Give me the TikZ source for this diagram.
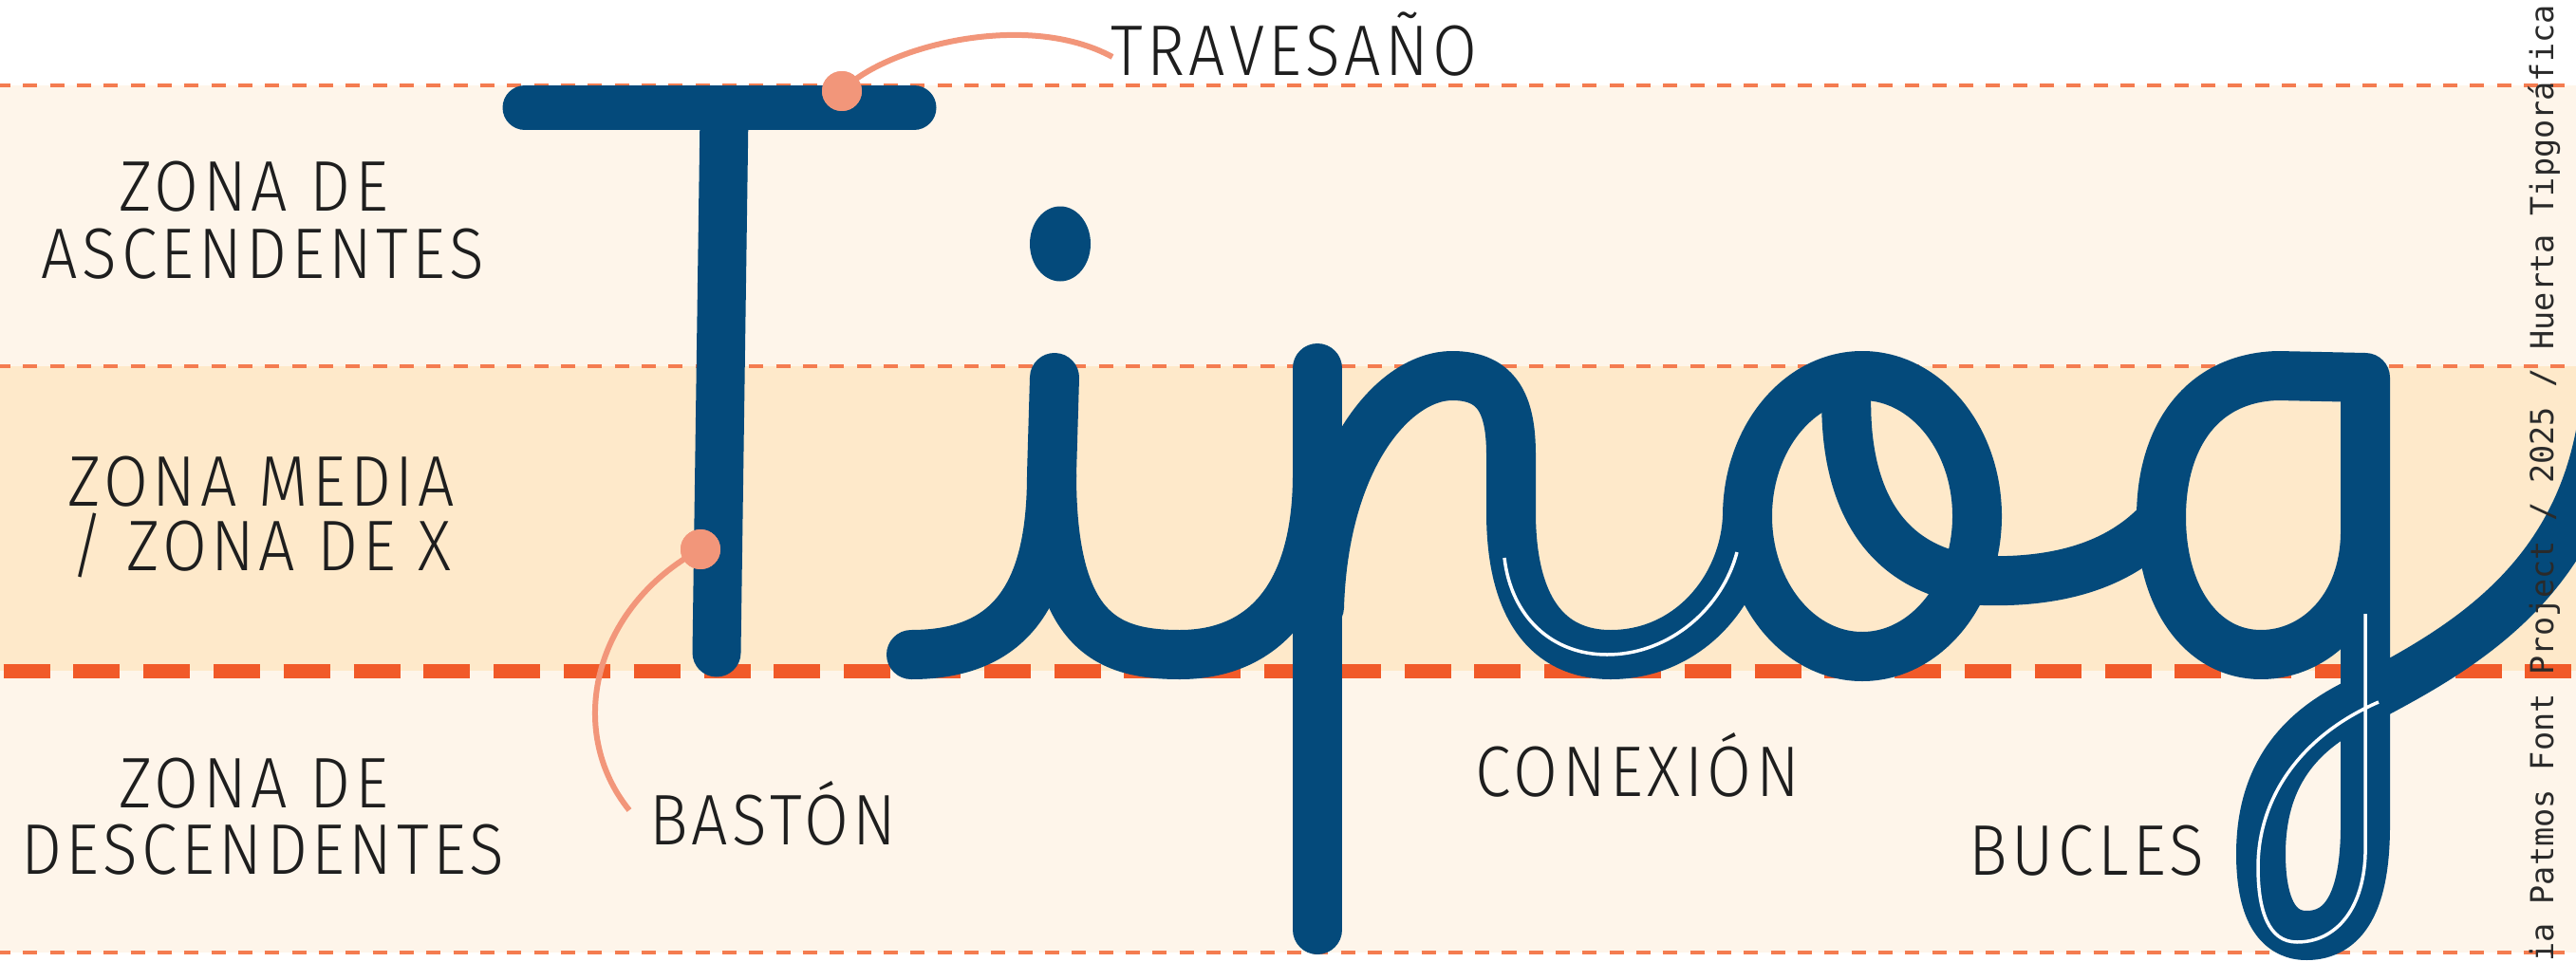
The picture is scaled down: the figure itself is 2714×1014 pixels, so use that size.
\documentclass[tikz,border=0pt]{standalone}
\usepackage{fontspec}
\IfFontExistsTF{Fira Sans Light}
  {\newfontfamily\lblfont{Fira Sans Light}[FakeStretch=0.9,LetterSpace=6]\def\lblsize{75.5}}
  {\newfontfamily\lblfont{Open Sans}[FakeStretch=0.82,LetterSpace=7]\def\lblsize{73}}
\newfontfamily\credfont{DejaVu Sans Mono}
\definecolor{navy}{HTML}{044A7B}
\definecolor{salmon}{HTML}{F2967A}
\definecolor{thickorange}{HTML}{F15A29}
\definecolor{thinorange}{HTML}{F47C50}
\definecolor{bandlight}{HTML}{FEF5EA}
\definecolor{bandpeach}{HTML}{FEE9CA}
\definecolor{labelink}{HTML}{1E1E1E}
\definecolor{credink}{HTML}{2A2A2A}
\begin{document}
\begin{tikzpicture}[x=1pt,y=-1pt,
  thindash/.style={draw=thinorange,line width=4.5pt,dash pattern=on 15pt off 13.33pt},
  thickdash/.style={draw=thickorange,line width=15pt,dash pattern=on 49pt off 24.8pt},
  ink/.style={draw=navy,line width=52pt,line cap=round,line join=round},
  wline/.style={draw=white,line width=3.5pt},
  leader/.style={draw=salmon,line width=6pt},
  dotmark/.style={circle,fill=salmon,minimum size=42pt,inner sep=0pt},
  lbl/.style={font=\lblfont\fontsize{\lblsize}{71}\selectfont,text=labelink,inner sep=0pt,anchor=base},
  lblw/.style={lbl,anchor=base west},
  cred/.style={font=\credfont\fontsize{33.5}{40}\selectfont,text=credink,inner sep=0pt,rotate=90,anchor=base west}]
\useasboundingbox (0,0) rectangle (2714,1014);
\fill[white] (0,0) rectangle (2714,1014);
% bands
\fill[bandlight] (0,90) rectangle (2714,386);
\fill[bandpeach] (0,386) rectangle (2714,707);
\fill[bandlight] (0,707) rectangle (2714,1004);
% guide lines
\draw[thindash] (-4,90) -- (2714,90);
\draw[thindash] (-4,386) -- (2714,386);
\draw[thickdash] (3.5,707) -- (2714,707);
\draw[thindash] (-4,1004) -- (2714,1004);
% T
\draw[ink,line width=47pt] (553,113.5) -- (963,113.5);
\draw[ink,line width=51pt] (763,120) -- (755,688);
% i
\fill[navy] (1117,257) ellipse [x radius=32pt, y radius=39.5pt];
\draw[ink] (960,690) .. controls (1070,690) and (1108,620) .. (1108,500) -- (1111,398);
\draw[ink] (1108,500) .. controls (1108,665) and (1165,690) .. (1243,690) .. controls (1330,690) and (1388,630) .. (1388,500);
% p
\draw[ink] (1388,388) -- (1388,980);
\draw[ink] (1390,640) .. controls (1395,480) and (1470,396) .. (1530,396) .. controls (1580,396) and (1592,430) .. (1592,480) -- (1592,540) .. controls (1592,640) and (1630,690) .. (1697,690) .. controls (1780,690) and (1838,620) .. (1841,544);
% o
\draw[ink] (1962,544) ellipse [x radius=121pt, y radius=148pt];
\draw[ink] (1946,400) .. controls (1938,530) and (1990,605) .. (2090,612) .. controls (2160,614) and (2230,600) .. (2277,548);
% g
\draw[ink] (2492,560) .. controls (2492,640) and (2440,690) .. (2382,690) .. controls (2320,690) and (2277,630) .. (2277,545) .. controls (2277,460) and (2320,398) .. (2400,396) -- (2492,398) -- (2492,870) .. controls (2492,950) and (2470,986) .. (2430,986) .. controls (2395,986) and (2382,950) .. (2382,900) .. controls (2382,810) and (2430,765) .. (2492,737) .. controls (2600,680) and (2745,600) .. (2747,380);
% white guide strokes
\draw[wline] (1585,588) .. controls (1592,650) and (1635,690) .. (1693,690) .. controls (1760,690) and (1815,640) .. (1830,582);
\draw[wline] (2492,647) -- (2492,900) .. controls (2490,960) and (2460,993) .. (2420,993) .. controls (2390,993) and (2379,960) .. (2379,914) .. controls (2379,840) and (2425,775) .. (2506,740);
% leaders and dots
\node[dotmark] (travDot) at (887,96) {};
\node[dotmark] (bastDot) at (738,579) {};
\coordinate (travEnd) at (1172,60);
\coordinate (bastEnd) at (663,854);
\draw[leader] (travDot.center) .. controls (930,50) and (1080,10) .. (travEnd);
\draw[leader] (bastDot.center) .. controls (625,640) and (595,770) .. (bastEnd);
\node[dotmark] at (travDot.center) {};
\node[dotmark] at (bastDot.center) {};
% labels
\node[lbl] (ascA) at (267,222) {ZONA DE};
\node[lbl] (ascB) at (277,293) {ASCENDENTES};
\node[lbl] (medA) at (275,533) {ZONA MEDIA};
\node[lbl] (medB) at (275,601) {/ ZONA DE X};
\node[lbl] (desA) at (267,851) {ZONA DE};
\node[lbl] (desB) at (277,921) {DESCENDENTES};
\node[lblw] (trav) at (1170,80) {TRAVESAÑO};
\node[lblw] (bast) at (684,890) {BASTÓN};
\node[lblw] (conex) at (1554,839) {CONEXIÓN};
\node[lblw] (bucl) at (2074,922) {BUCLES};
% credit
\node[cred] (credit) at (2690,1014) {ia Patmos Font Project / 2025 / Huerta Tipgoráfica};
\end{tikzpicture}
\end{document}
